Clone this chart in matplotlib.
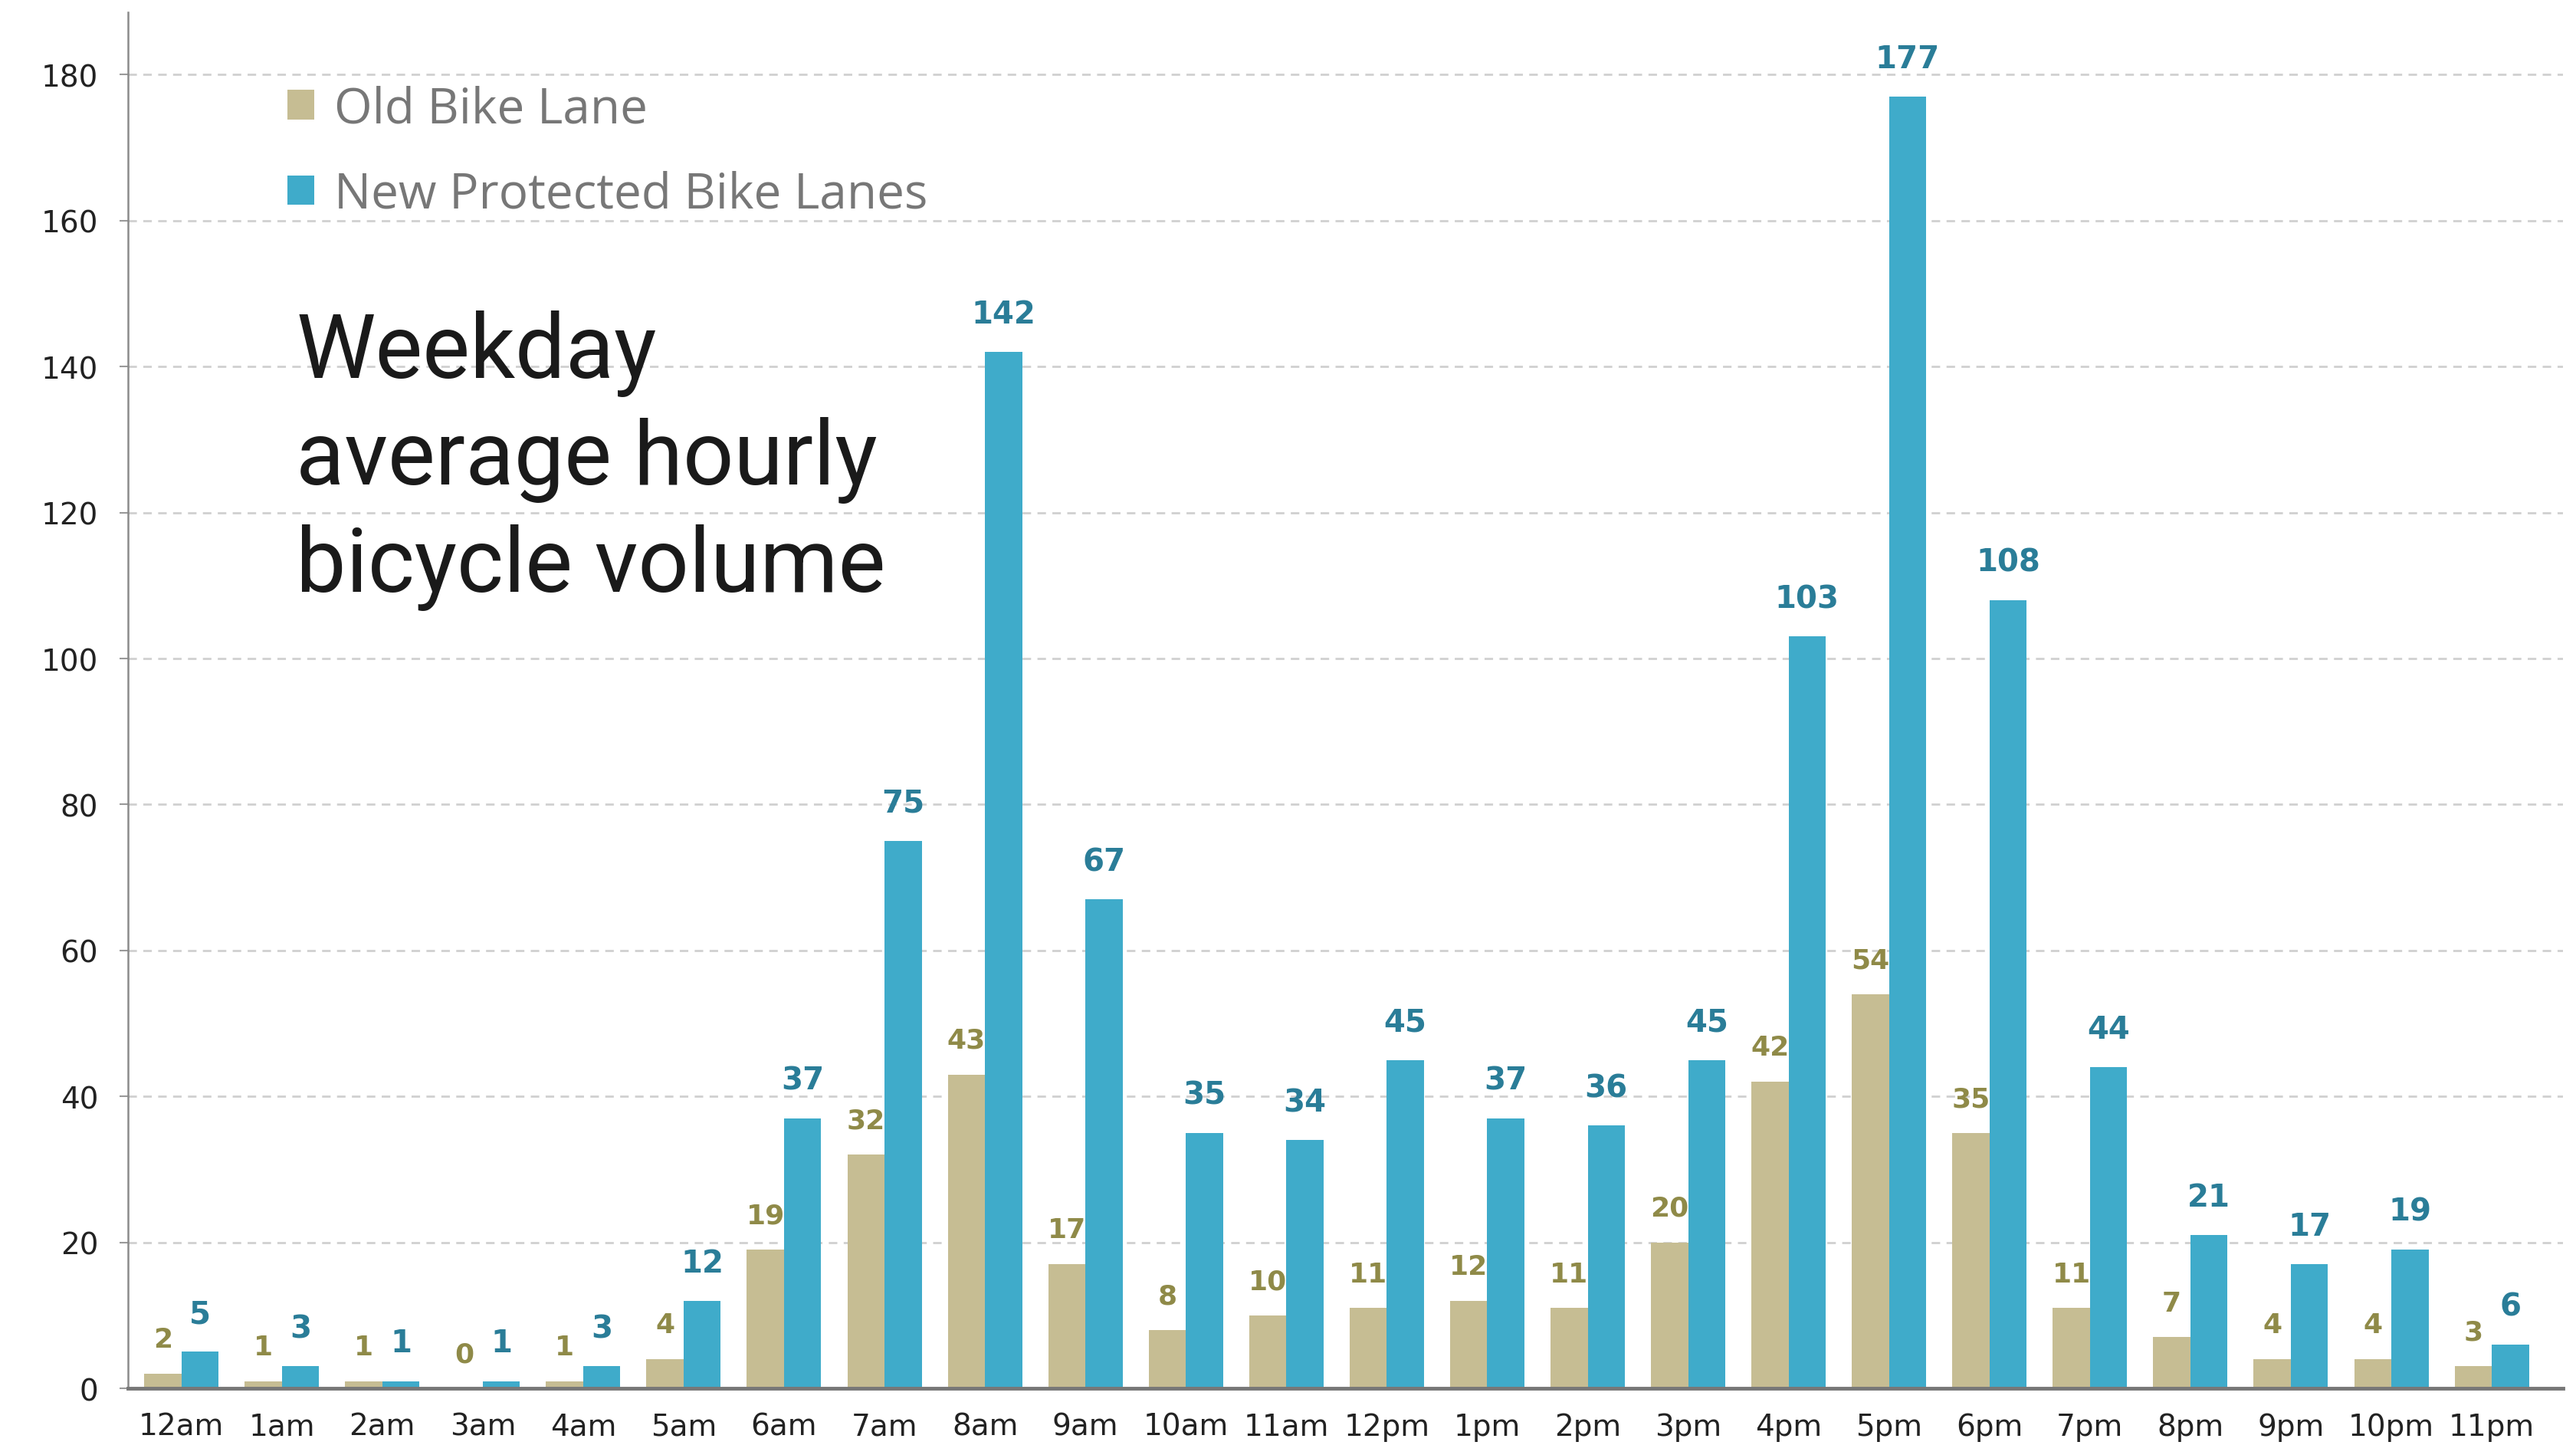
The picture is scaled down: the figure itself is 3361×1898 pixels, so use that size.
import matplotlib
matplotlib.use("Agg")
import matplotlib.pyplot as plt
import numpy as np

hours = ["12am", "1am", "2am", "3am", "4am", "5am", "6am", "7am", "8am", "9am", "10am", "11am",
         "12pm", "1pm", "2pm", "3pm", "4pm", "5pm", "6pm", "7pm", "8pm", "9pm", "10pm", "11pm"]
old_lane = [2, 1, 1, 0, 1, 4, 19, 32, 43, 17, 8, 10, 11, 12, 11, 20, 42, 54, 35, 11, 7, 4, 4, 3]
new_lanes = [5, 3, 1, 1, 3, 12, 37, 75, 142, 67, 35, 34, 45, 37, 36, 45, 103, 177, 108, 44, 21, 17, 19, 6]
yticks = [0, 20, 40, 60, 80, 100, 120, 140, 160, 180]

OLD_C = "#c6bd93"
NEW_C = "#3fabca"
OLD_T = "#8f8a48"
NEW_T = "#2a7d98"

NARROW = ["DejaVu Sans"]

fig = plt.figure(figsize=(33.62, 18.99), dpi=100)
ax = fig.add_axes([0.0497, 0.0458, 0.945, 0.945])

x = np.arange(len(hours))
w = 0.37
ax.bar(x - w / 2, old_lane, width=w, color=OLD_C, label="Old Bike Lane", zorder=3)
ax.bar(x + w / 2, new_lanes, width=w, color=NEW_C, label="New Protected Bike Lanes", zorder=3)

for xi, v in zip(x, old_lane):
    ax.annotate(str(v), (xi - w / 2, v), xytext=(0, 20), textcoords="offset points",
                ha="center", va="bottom", fontsize=26, color=OLD_T, fontweight="bold",
                family=NARROW)
for xi, v in zip(x, new_lanes):
    ax.annotate(str(v), (xi + w / 2, v), xytext=(0, 21), textcoords="offset points",
                ha="center", va="bottom", fontsize=29, color=NEW_T, fontweight="bold",
                family=NARROW)

ax.set_xlim(-0.53, 23.71)
ax.set_ylim(0, 188.5)
ax.set_yticks(yticks)
ax.set_yticklabels([str(t) for t in yticks], family=NARROW, fontsize=28, color="#222222")
ax.set_xticks(x)
ax.set_xticklabels(hours, family=NARROW, fontsize=28, color="#222222")
ax.tick_params(axis="x", length=0, pad=22)
ax.tick_params(axis="y", length=8, width=1.5, color="#999999", pad=20)

ax.grid(axis="y", linestyle=(0, (4, 3)), color="#d0d0d0", linewidth=2, zorder=0)
for s in ["top", "right"]:
    ax.spines[s].set_visible(False)
ax.spines["left"].set_color("#8a8a8a")
ax.spines["left"].set_linewidth(1.8)
ax.spines["bottom"].set_color("#777777")
ax.spines["bottom"].set_linewidth(3.5)
ax.spines["bottom"].set_zorder(4)

leg = ax.legend(loc="upper left", bbox_to_anchor=(0.0575, 0.962), frameon=False,
                prop={"family": ["Open Sans", "DejaVu Sans"], "size": 46},
                handlelength=0.55, handleheight=0.55, handletextpad=0.4, labelspacing=0.74,
                borderaxespad=0)
for t in leg.get_texts():
    t.set_color("#777777")

ax.text(0.069, 0.784, "Weekday\naverage hourly\nbicycle volume", transform=ax.transAxes,
        fontsize=84, family=["Roboto", "DejaVu Sans"], color="#1a1a1a",
        ha="left", va="top", linespacing=1.3)

fig.savefig("out.png", dpi=100, facecolor="white")
